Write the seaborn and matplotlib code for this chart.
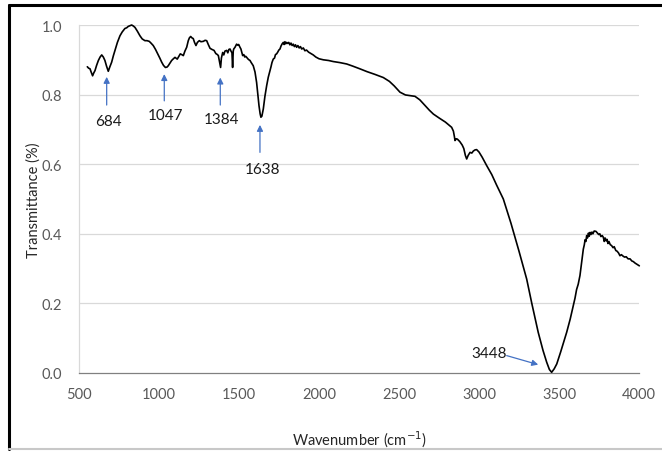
import matplotlib
matplotlib.use("Agg")
import matplotlib.pyplot as plt
import seaborn as sns
import pandas as pd
from matplotlib.lines import Line2D

wavenumber = [552, 560, 569, 575, 585, 592, 600, 610, 621, 632, 642, 652, 662, 672, 683, 693, 704, 715, 725, 740,
              756, 770, 787, 798, 808, 818, 829, 840, 850, 865, 881, 895, 912, 925, 939, 950, 964, 978, 992, 1005,
              1017, 1028, 1040, 1050, 1058, 1068, 1079, 1090, 1100, 1108, 1114, 1124, 1133, 1142, 1152, 1162, 1173,
              1183, 1190, 1198, 1206, 1214, 1222, 1231, 1240, 1252, 1262, 1277, 1288, 1298, 1308, 1319, 1330, 1344,
              1355, 1365, 1371, 1378, 1385, 1390, 1398, 1405, 1412, 1423, 1430, 1437, 1444, 1450, 1456, 1460, 1464,
              1467, 1475, 1485, 1492, 1498, 1505, 1512, 1518, 1523, 1530, 1536, 1542, 1548, 1555, 1562, 1569, 1575,
              1582, 1589, 1600, 1610, 1618, 1625, 1632, 1637, 1643, 1652, 1662, 1673, 1683, 1690, 1694, 1700, 1706,
              1714, 1722, 1728, 1735, 1742, 1749, 1756, 1763, 1770, 1777, 1782, 1787, 1792, 1798, 1805, 1811, 1818,
              1825, 1832, 1839, 1846, 1853, 1860, 1868, 1876, 1884, 1892, 1902, 1912, 1922, 1935, 1950, 1964, 1980,
              2000, 2027, 2060, 2089, 2130, 2173, 2210, 2256, 2300, 2350, 2402, 2440, 2470, 2506, 2540, 2570, 2600,
              2630, 2660, 2690, 2715, 2750, 2790, 2829, 2840, 2846, 2850, 2858, 2865, 2880, 2895, 2905, 2915, 2923,
              2932, 2944, 2955, 2965, 2975, 2985, 3000, 3020, 3048, 3080, 3110, 3152, 3200, 3250, 3298, 3330, 3370,
              3400, 3423, 3440, 3454, 3470, 3486, 3510, 3530, 3548, 3570, 3589, 3600, 3610, 3620, 3631, 3638, 3645,
              3652, 3658, 3663, 3668, 3673, 3678, 3684, 3689, 3694, 3700, 3706, 3712, 3720, 3731, 3740, 3748, 3755,
              3762, 3770, 3777, 3783, 3788, 3795, 3800, 3806, 3812, 3820, 3829, 3838, 3845, 3855, 3863, 3872, 3881,
              3890, 3900, 3910, 3920, 3932, 3944, 3955, 3965, 3975, 3988, 4002]
transmittance = [0.880, 0.876, 0.874, 0.866, 0.854, 0.862, 0.869, 0.884, 0.898, 0.908, 0.914, 0.908, 0.898, 0.882,
                 0.867, 0.880, 0.893, 0.912, 0.927, 0.950, 0.969, 0.980, 0.990, 0.992, 0.996, 0.998, 1.000, 0.997,
                 0.993, 0.982, 0.969, 0.960, 0.955, 0.955, 0.953, 0.948, 0.941, 0.930, 0.917, 0.905, 0.893, 0.884,
                 0.878, 0.879, 0.883, 0.890, 0.898, 0.903, 0.907, 0.904, 0.902, 0.910, 0.917, 0.915, 0.912, 0.925,
                 0.936, 0.955, 0.963, 0.967, 0.963, 0.961, 0.950, 0.941, 0.950, 0.955, 0.952, 0.953, 0.956, 0.955,
                 0.944, 0.933, 0.930, 0.927, 0.918, 0.915, 0.912, 0.895, 0.878, 0.905, 0.921, 0.914, 0.925, 0.927,
                 0.920, 0.930, 0.931, 0.925, 0.920, 0.878, 0.925, 0.931, 0.936, 0.945, 0.942, 0.944, 0.937, 0.931,
                 0.920, 0.912, 0.915, 0.908, 0.910, 0.907, 0.903, 0.900, 0.898, 0.893, 0.888, 0.883, 0.865, 0.835,
                 0.800, 0.768, 0.745, 0.735, 0.738, 0.759, 0.795, 0.826, 0.850, 0.862, 0.869, 0.880, 0.892, 0.902,
                 0.905, 0.915, 0.917, 0.922, 0.928, 0.931, 0.940, 0.946, 0.950, 0.944, 0.952, 0.946, 0.950, 0.947,
                 0.950, 0.943, 0.948, 0.941, 0.945, 0.938, 0.943, 0.936, 0.941, 0.934, 0.938, 0.931, 0.934, 0.926,
                 0.928, 0.922, 0.918, 0.914, 0.908, 0.903, 0.900, 0.898, 0.895, 0.892, 0.888, 0.882, 0.874, 0.866,
                 0.858, 0.849, 0.838, 0.825, 0.807, 0.799, 0.797, 0.795, 0.785, 0.770, 0.755, 0.744, 0.733, 0.721,
                 0.706, 0.695, 0.680, 0.668, 0.673, 0.672, 0.665, 0.655, 0.645, 0.625, 0.615, 0.625, 0.634, 0.632,
                 0.638, 0.641, 0.642, 0.635, 0.620, 0.596, 0.570, 0.540, 0.500, 0.430, 0.350, 0.270, 0.200, 0.117,
                 0.065, 0.031, 0.010, 0.002, 0.012, 0.026, 0.060, 0.090, 0.117, 0.155, 0.193, 0.215, 0.240, 0.255,
                 0.280, 0.305, 0.330, 0.356, 0.368, 0.383, 0.378, 0.395, 0.388, 0.402, 0.393, 0.404, 0.398, 0.405,
                 0.400, 0.408, 0.407, 0.402, 0.398, 0.400, 0.392, 0.395, 0.390, 0.378, 0.388, 0.380, 0.384, 0.372,
                 0.378, 0.369, 0.366, 0.360, 0.363, 0.352, 0.350, 0.345, 0.337, 0.340, 0.336, 0.333, 0.334, 0.328,
                 0.328, 0.322, 0.320, 0.316, 0.312, 0.308]

# annotations: label, arrow x, arrow tip y, arrow tail y, label x, label y
peak_labels = ["684", "1047", "1384", "1638"]
peak_arrow_x = [673, 1033, 1383, 1631]
peak_tip_y = [0.851, 0.859, 0.849, 0.713]
peak_tail_y = [0.770, 0.782, 0.770, 0.634]
peak_label_x = [684, 1040, 1390, 1650]
peak_label_y = [0.724, 0.741, 0.730, 0.586]

min_label = "3448"
min_label_xy = (3066, 0.057)
min_tail_xy = (3173, 0.050)
min_tip_xy = (3370, 0.024)

x_ticks = [500, 1000, 1500, 2000, 2500, 3000, 3500, 4000]
y_ticks = [0.0, 0.2, 0.4, 0.6, 0.8, 1.0]

sns.set_style("white")
plt.rcParams['font.family'] = ['Lato', 'DejaVu Sans']

df = pd.DataFrame({"Wavenumber": wavenumber, "Transmittance": transmittance})

fig = plt.figure(figsize=(6.62, 4.52), dpi=100)
ax = fig.add_axes([79 / 662, 78 / 452, 560 / 662, 348 / 452])

for yv in y_ticks[1:]:
    ax.axhline(yv, color="#D9D9D9", lw=0.9, zorder=0)

sns.lineplot(data=df, x="Wavenumber", y="Transmittance", color="black", lw=1.2, ax=ax,
             sort=False, clip_on=False, zorder=3)

ax.set_xlim(500, 4000)
ax.set_ylim(0, 1.0)
ax.set_xticks(x_ticks)
ax.set_yticks(y_ticks)
ax.set_yticklabels([f"{v:.1f}" for v in y_ticks])
ax.tick_params(axis="x", direction="in", length=4, width=0.8, color="#808080",
               labelsize=10.5, labelcolor="#595959", pad=10)
ax.tick_params(axis="y", length=0, labelsize=10.5, labelcolor="#595959", pad=12)

for s in ["top", "right"]:
    ax.spines[s].set_visible(False)
ax.spines["left"].set_color("#D9D9D9")
ax.spines["left"].set_linewidth(0.9)
ax.spines["bottom"].set_color("#808080")
ax.spines["bottom"].set_linewidth(0.9)

ax.set_xlabel("Wavenumber (cm$^{-1}$)", fontsize=10.5, color="#262626", labelpad=20)
ax.set_ylabel("Transmittance (%)", fontsize=10.5, color="#262626", labelpad=1)

arrow_color = "#4472C4"
for lab, axx, ty, tl, lx, ly in zip(peak_labels, peak_arrow_x, peak_tip_y, peak_tail_y,
                                    peak_label_x, peak_label_y):
    ax.annotate("", xy=(axx, ty), xytext=(axx, tl),
                arrowprops=dict(arrowstyle="-|>", color=arrow_color, lw=0.9,
                                mutation_scale=9, shrinkA=0, shrinkB=0))
    ax.text(lx, ly, lab, ha="center", va="center", fontsize=11, color="#1a1a1a")

ax.annotate("", xy=min_tip_xy, xytext=min_tail_xy,
            arrowprops=dict(arrowstyle="-|>", color=arrow_color, lw=0.9,
                            mutation_scale=9, shrinkA=0, shrinkB=0))
ax.text(min_label_xy[0], min_label_xy[1], min_label, ha="center", va="center",
        fontsize=11, color="#1a1a1a")

# outer frame
fig.add_artist(Line2D([9 / 662, 1.0], [1 - 6 / 452, 1 - 6 / 452], color="black", lw=2.2,
                      transform=fig.transFigure))
fig.add_artist(Line2D([9 / 662, 9 / 662], [1 - 6 / 452, 2 / 452], color="black", lw=2.2,
                      transform=fig.transFigure))
fig.add_artist(Line2D([9 / 662, 1.0], [2 / 452, 2 / 452], color="#C8C8C8", lw=1.5,
                      transform=fig.transFigure))

fig.savefig("out.png", dpi=100)
